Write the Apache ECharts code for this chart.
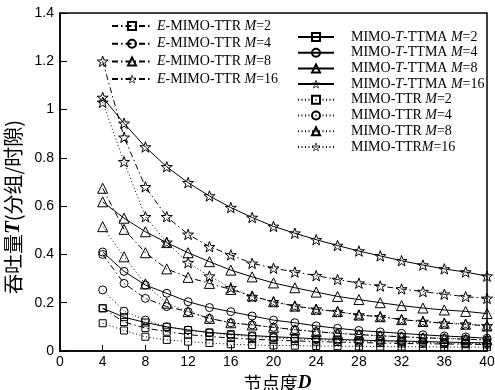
<!DOCTYPE html>
<html><head><meta charset="utf-8">
<script src="https://cdn.jsdelivr.net/npm/echarts@6/dist/echarts.min.js"></script>
<style>html,body{margin:0;padding:0;background:#fff}#c{width:495px;height:390px}</style>
</head><body><div id="c"></div>
<script>
// Node degree D
const D = [4,6,8,10,12,14,16,18,20,22,24,26,28,30,32,34,36,38,40];
// E-MIMO-TTR (dash-dot)
const eM2  = [0.177,0.120,0.095,0.080,0.068,0.060,0.054,0.049,0.045,0.042,0.039,0.037,0.035,0.033,0.031,0.030,0.029,0.028,0.027];
const eM4  = [0.400,0.280,0.218,0.184,0.163,0.135,0.117,0.108,0.098,0.088,0.080,0.073,0.068,0.063,0.059,0.055,0.052,0.049,0.046];
const eM8  = [0.674,0.504,0.407,0.340,0.305,0.280,0.255,0.228,0.204,0.186,0.173,0.163,0.149,0.142,0.130,0.122,0.115,0.111,0.104];
const eM16 = [1.200,0.885,0.680,0.556,0.483,0.432,0.398,0.363,0.343,0.327,0.312,0.296,0.281,0.269,0.257,0.246,0.235,0.225,0.218];
// MIMO-T-TTMA (solid)
const tM2  = [0.177,0.140,0.118,0.100,0.087,0.077,0.070,0.064,0.059,0.055,0.051,0.048,0.045,0.043,0.041,0.039,0.037,0.035,0.034];
const tM4  = [0.410,0.330,0.273,0.239,0.204,0.180,0.163,0.145,0.128,0.117,0.104,0.094,0.085,0.079,0.073,0.067,0.062,0.058,0.053];
const tM8  = [0.618,0.550,0.494,0.449,0.407,0.370,0.335,0.307,0.282,0.262,0.244,0.226,0.213,0.200,0.188,0.178,0.170,0.164,0.155];
const tM16 = [1.050,0.943,0.845,0.763,0.697,0.642,0.594,0.553,0.516,0.488,0.461,0.437,0.414,0.394,0.374,0.356,0.340,0.327,0.310];
// MIMO-TTR (dotted)
const rM2  = [0.115,0.085,0.059,0.046,0.039,0.033,0.028,0.025,0.023,0.022,0.021,0.020,0.019,0.018,0.018,0.017,0.017,0.016,0.016];
const rM4  = [0.253,0.165,0.128,0.100,0.087,0.075,0.066,0.060,0.055,0.050,0.047,0.044,0.041,0.039,0.037,0.035,0.033,0.032,0.031];
const rM8  = [0.515,0.390,0.278,0.198,0.163,0.135,0.117,0.108,0.098,0.088,0.080,0.073,0.068,0.063,0.059,0.055,0.052,0.049,0.046];
const rM16 = [1.030,0.784,0.556,0.450,0.366,0.310,0.262,0.225,0.204,0.186,0.173,0.163,0.149,0.142,0.130,0.122,0.115,0.111,0.104];

const xTicks = [0,4,8,12,16,20,24,28,32,36,40];
const yTicks = [0,0.2,0.4,0.6,0.8,1,1.2,1.4];

const STAR = 'path://M0,-10L2.35,-3.24L9.51,-3.09L3.8,1.24L5.88,8.09L0,4L-5.88,8.09L-3.8,1.24L-9.51,-3.09L-2.35,-3.24Z';
const shapes = {2:['rect',7], 4:['circle',8], 8:['triangle',10], 16:[STAR,11]};
const dashDot = [6,3,1.5,3], dotted = [1,2.5];

const defs = [
  ['E-MIMO-TTR M=2', eM2, dashDot, 2, '{i|E}-MIMO-TTR {i|M}=2'],
  ['E-MIMO-TTR M=4', eM4, dashDot, 4, '{i|E}-MIMO-TTR {i|M}=4'],
  ['E-MIMO-TTR M=8', eM8, dashDot, 8, '{i|E}-MIMO-TTR {i|M}=8'],
  ['E-MIMO-TTR M=16', eM16, dashDot, 16, '{i|E}-MIMO-TTR {i|M}=16'],
  ['MIMO-T-TTMA M=2', tM2, 'solid', 2, 'MIMO-{i|T}-TTMA {i|M}=2'],
  ['MIMO-T-TTMA M=4', tM4, 'solid', 4, 'MIMO-{i|T}-TTMA {i|M}=4'],
  ['MIMO-T-TTMA M=8', tM8, 'solid', 8, 'MIMO-{i|T}-TTMA {i|M}=8'],
  ['MIMO-T-TTMA M=16', tM16, 'solid', 16, 'MIMO-{i|T}-TTMA {i|M}=16'],
  ['MIMO-TTR M=2', rM2, dotted, 2, 'MIMO-TTR {i|M}=2'],
  ['MIMO-TTR M=4', rM4, dotted, 4, 'MIMO-TTR {i|M}=4'],
  ['MIMO-TTR M=8', rM8, dotted, 8, 'MIMO-TTR {i|M}=8'],
  ['MIMO-TTRM=16', rM16, dotted, 16, 'MIMO-TTR{i|M}=16']
];
const labelMap = {};
defs.forEach(d => labelMap[d[0]] = d[4]);

const series = defs.map(d => ({
  name: d[0], type: 'line',
  data: D.map((x, i) => [x, d[1][i]]),
  symbol: shapes[d[3]][0], symbolSize: shapes[d[3]][1], symbolKeepAspect: true,
  showAllSymbol: true,
  lineStyle: {color: '#000', width: 1, type: d[2]},
  itemStyle: {color: 'rgba(255,255,255,0)', borderColor: '#000', borderWidth: 1},
  emphasis: {disabled: true},
  z: 3
}));

const legText = {
  fontFamily: 'Liberation Serif', fontSize: 14, color: '#000', lineHeight: 14,
  rich: { i: {fontFamily: 'Liberation Serif', fontStyle: 'italic', fontSize: 14, color: '#000', lineHeight: 14} }
};
const legItem = d => d[3] === 16
  ? {name: d[0], itemStyle: {color: 'rgba(255,255,255,0)', borderColor: '#000', borderWidth: 0.7}}
  : {name: d[0]};

const chart = echarts.init(document.getElementById('c'), null, {renderer: 'canvas'});
chart.setOption({
  animation: false,
  backgroundColor: '#fff',
  grid: {left: 60, right: 8, top: 13, bottom: 39, show: true, borderColor: '#000', borderWidth: 1.5,
         containLabel: false, outerBoundsMode: 'none'},
  legend: [
    {orient: 'vertical', left: 111, top: 19, padding: 0, itemGap: 3.7, itemWidth: 40, itemHeight: 10,
     data: defs.slice(0,4).map(legItem), formatter: n => labelMap[n], textStyle: legText, selectedMode: false},
    {orient: 'vertical', left: 297, top: 30, padding: 0, itemGap: 1.7, itemWidth: 36, itemHeight: 10,
     data: defs.slice(4).map(legItem), formatter: n => labelMap[n],
     textStyle: Object.assign({}, legText, {padding: [0,0,0,12]}), selectedMode: false}
  ],
  xAxis: {
    type: 'value', min: 0, max: 40, interval: 4,
    name: '节点度{i|D}', nameLocation: 'middle', nameGap: 20,
    nameTextStyle: {fontFamily: 'Noto Sans CJK SC', fontSize: 18, color: '#000', padding: [0,0,0,8],
      rich: {i: {fontFamily: 'Liberation Serif', fontStyle: 'italic', fontWeight: 'bold', fontSize: 19, color: '#000'}}},
    axisLine: {lineStyle: {color: '#000', width: 1.5}},
    axisTick: {inside: true, length: 6, lineStyle: {color: '#000'}},
    axisLabel: {fontFamily: 'Liberation Sans', fontSize: 14, color: '#000', margin: 4,
      formatter: v => xTicks.includes(v) ? String(v) : ''},
    splitLine: {show: false}
  },
  yAxis: {
    type: 'value', min: 0, max: 1.4, interval: 0.2,
    name: '吞吐量{i|T}(分组/时隙)', nameLocation: 'middle', nameGap: 36, nameRotate: 90,
    nameTextStyle: {fontFamily: 'Noto Sans CJK SC', fontSize: 20, color: '#000', padding: [0,50,0,0],
      rich: {i: {fontFamily: 'Liberation Serif', fontStyle: 'italic', fontWeight: 'bold', fontSize: 21, color: '#000'}}},
    axisLine: {lineStyle: {color: '#000', width: 1.5}},
    axisTick: {inside: true, length: 7, lineStyle: {color: '#000'}},
    axisLabel: {fontFamily: 'Liberation Sans', fontSize: 14, color: '#000', margin: 6,
      formatter: v => { const t = yTicks.find(y => Math.abs(y - v) < 1e-9); return t === undefined ? '' : String(t); }},
    splitLine: {show: false}
  },
  series: series
});
</script></body></html>
